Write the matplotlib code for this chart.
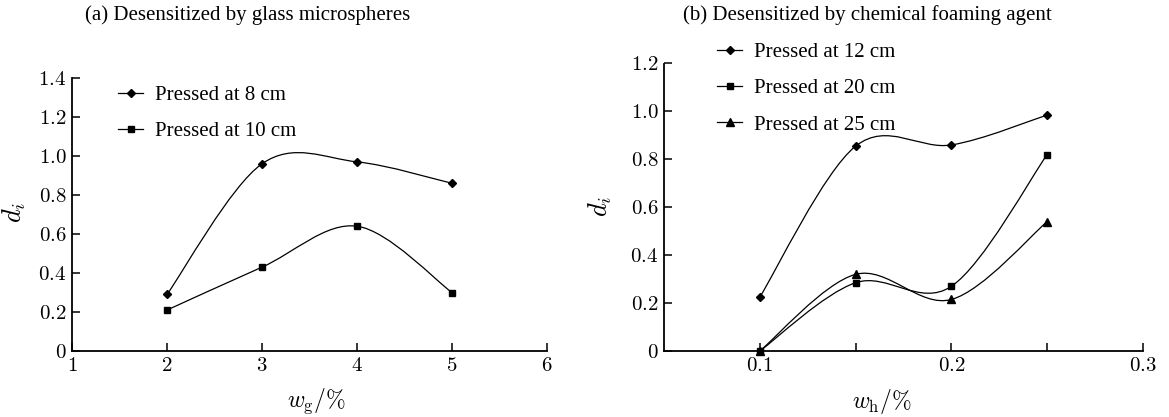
import matplotlib
matplotlib.use("Agg")
import matplotlib.pyplot as plt
from matplotlib.path import Path
from matplotlib.patches import PathPatch
from matplotlib.ticker import FixedLocator, FuncFormatter
import numpy as np

plt.rcParams['font.family'] = ['Liberation Serif', 'DejaVu Serif']
plt.rcParams['mathtext.fontset'] = 'cm'

# ---- data ----
wg = [2, 3, 4, 5]
di_8cm = [0.29, 0.96, 0.97, 0.86]
di_10cm = [0.21, 0.43, 0.64, 0.30]

wh = [0.10, 0.15, 0.20, 0.25]
di_12cm = [0.225, 0.855, 0.86, 0.985]
di_20cm = [0.0, 0.285, 0.27, 0.82]
di_25cm = [0.0, 0.32, 0.215, 0.54]

labels_a = ["Pressed at 8 cm", "Pressed at 10 cm"]
labels_b = ["Pressed at 12 cm", "Pressed at 20 cm", "Pressed at 25 cm"]
title_a = "(a) Desensitized by glass microspheres"
title_b = "(b) Desensitized by chemical foaming agent"
xticks_a = [1, 2, 3, 4, 5, 6]
xticks_b = [0.1, 0.15, 0.2, 0.25, 0.3]
xticklabels_b = ["0.1", "", "0.2", "", "0.3"]

W, H = 1169, 417
fig = plt.figure(figsize=(W / 100, H / 100), dpi=100)


def smooth_path(x, y):
    """Excel-style smoothed line: cubic Bezier through the points."""
    pts = np.column_stack([x, y]).astype(float)
    n = len(pts)
    verts = [pts[0]]
    codes = [Path.MOVETO]
    for i in range(n - 1):
        p0 = pts[i - 1] if i > 0 else pts[i]
        p1 = pts[i]
        p2 = pts[i + 1]
        p3 = pts[i + 2] if i + 2 < n else pts[i + 1]
        c1 = p1 + (p2 - p0) / 6.0
        c2 = p2 - (p3 - p1) / 6.0
        verts += [c1, c2, p2]
        codes += [Path.CURVE4] * 3
    return Path(verts, codes)


def draw_series(ax, x, y, marker, ms, label):
    ax.add_patch(PathPatch(smooth_path(x, y), facecolor='none', edgecolor='black', lw=0.9, zorder=2))
    ax.plot(x, y, linestyle='none', marker=marker, ms=ms, color='black', zorder=3, clip_on=False)
    ax.plot([], [], color='black', lw=0.9, marker=marker, ms=ms, label=label)


def style_axes(ax):
    for s in ['top', 'right']:
        ax.spines[s].set_visible(False)
    for s in ['left', 'bottom']:
        ax.spines[s].set_linewidth(1.3)
    ax.tick_params(direction='in', length=5.5, width=1.1, labelsize=15, pad=4)


fmt_y = FuncFormatter(lambda v, p: "$0$" if abs(v) < 1e-9 else f"${v:.1f}$")

# ---- panel (a) ----
ax1 = fig.add_axes([72 / W, 1 - 351 / H, (547 - 72) / W, (351 - 78) / H])
draw_series(ax1, wg, di_8cm, 'D', 4, labels_a[0])
draw_series(ax1, wg, di_10cm, 's', 5, labels_a[1])
ax1.set_xlim(1, 6)
ax1.set_ylim(0, 1.4)
ax1.xaxis.set_major_locator(FixedLocator(xticks_a))
ax1.xaxis.set_major_formatter(FuncFormatter(lambda v, p: f"${v:.0f}$"))
ax1.yaxis.set_major_locator(FixedLocator(np.arange(0, 1.41, 0.2)))
ax1.yaxis.set_major_formatter(fmt_y)
style_axes(ax1)
ax1.legend(loc='upper left', bbox_to_anchor=(0.097, 0.972), frameon=False, fontsize=15,
           handlelength=1.2, labelspacing=0.8, handletextpad=0.58, borderpad=0, borderaxespad=0)

# ---- panel (b) ----
ax2 = fig.add_axes([664 / W, 1 - 351 / H, (1143 - 664) / W, (351 - 63.5) / H])
draw_series(ax2, wh, di_12cm, 'D', 4, labels_b[0])
draw_series(ax2, wh, di_20cm, 's', 5, labels_b[1])
draw_series(ax2, wh, di_25cm, '^', 5.5, labels_b[2])
ax2.set_xlim(0.05, 0.3)
ax2.set_ylim(0, 1.2)
ax2.xaxis.set_major_locator(FixedLocator(xticks_b))
ax2.xaxis.set_major_formatter(FuncFormatter(
    lambda v, p: (f"${xticklabels_b[p]}$" if xticklabels_b[p] else "") if p is not None and p < len(xticklabels_b) else ""))
ax2.yaxis.set_major_locator(FixedLocator(np.arange(0, 1.21, 0.2)))
ax2.yaxis.set_major_formatter(fmt_y)
style_axes(ax2)
ax2.legend(loc='upper left', bbox_to_anchor=(0.111, 1.073), frameon=False, fontsize=15,
           handlelength=1.2, labelspacing=0.8, handletextpad=0.58, borderpad=0, borderaxespad=0)

# ---- titles and axis labels ----
fig.text(85 / W, 1 - 15 / H, title_a, ha='left', va='center', fontsize=15)
fig.text(683 / W, 1 - 15 / H, title_b, ha='left', va='center', fontsize=15)

fig.text(316 / W, 1 - 401 / H, r"$w_{\mathrm{g}}/\%$", ha='center', va='center', fontsize=17)
fig.text(882 / W, 1 - 401 / H, r"$w_{\mathrm{h}}/\%$", ha='center', va='center', fontsize=17)
fig.text(14 / W, 1 - 212 / H, r"$d_i$", ha='center', va='center', fontsize=19, rotation=90)
fig.text(600 / W, 1 - 206 / H, r"$d_i$", ha='center', va='center', fontsize=19, rotation=90)

fig.savefig("out.png", dpi=100)
